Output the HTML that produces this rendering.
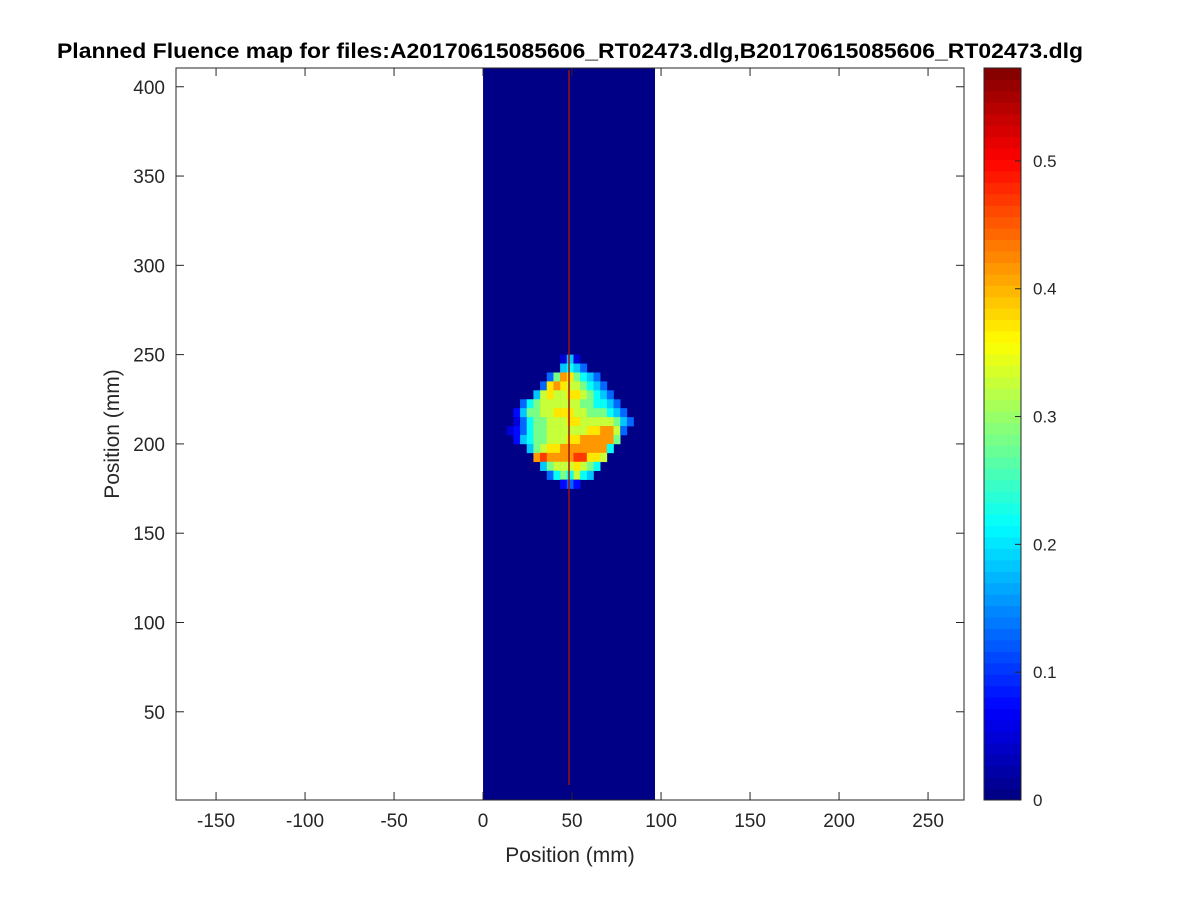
<!DOCTYPE html>
<html><head><meta charset="utf-8"><style>
body{margin:0;background:#fff;}
svg{display:block;font-family:"Liberation Sans",Arial,sans-serif;}
</style></head><body>
<svg id="chart" width="1200" height="900" viewBox="0 0 1200 900">
<rect width="1200" height="900" fill="#fff"/>
<text x="57" y="58" font-size="21" font-weight="bold" fill="#000" textLength="1026" lengthAdjust="spacingAndGlyphs">Planned Fluence map for files:A20170615085606_RT02473.dlg,B20170615085606_RT02473.dlg</text>
<g id="plot"></g>
<g id="axes"></g>
<g id="cbar"></g>
<text x="570" y="862" text-anchor="middle" font-size="21" fill="#262626">Position (mm)</text>
<text transform="translate(119,434) rotate(-90)" text-anchor="middle" font-size="21" fill="#262626">Position (mm)</text>
</svg>
<script>
const xTicks=[-150,-100,-50,0,50,100,150,200,250];
const yTicks=[50,100,150,200,250,300,350,400];
const cTicks=[0,0.1,0.2,0.3,0.4,0.5];
const fieldX=[0,96.6];
const lineX=[48.3];
const blobX0=[9.55];
const blobY0=[250];
const cellW=[3.75];
const cellH=[5.0];
const blobRows=[
[0,0,0,0,0,0,0,0,0,0.05,0.18,0.05],
[0,0,0,0,0,0,0,0,0,0.18,0.22,0.18,0.13],
[0,0,0,0,0,0,0,0.13,0.28,0.42,0.37,0.28,0.22,0.18,0.13],
[0,0,0,0,0,0,0.13,0.37,0.42,0.37,0.33,0.33,0.28,0.22,0.18,0.13],
[0,0,0,0,0,0.18,0.33,0.37,0.33,0.33,0.37,0.37,0.33,0.28,0.22,0.18,0.13],
[0,0,0,0.13,0.22,0.28,0.33,0.33,0.33,0.33,0.33,0.33,0.28,0.28,0.22,0.22,0.18,0.13],
[0,0,0.08,0.18,0.28,0.28,0.33,0.33,0.37,0.37,0.37,0.33,0.33,0.28,0.28,0.28,0.22,0.18,0.13],
[0,0,0.05,0.13,0.22,0.28,0.28,0.33,0.33,0.33,0.37,0.37,0.33,0.33,0.33,0.33,0.33,0.28,0.18,0.13],
[0,0.05,0.08,0.13,0.22,0.28,0.28,0.33,0.33,0.33,0.33,0.33,0.33,0.37,0.37,0.42,0.42,0.33,0.13],
[0,0,0.08,0.18,0.22,0.28,0.28,0.33,0.33,0.33,0.37,0.37,0.42,0.42,0.42,0.42,0.42,0.28],
[0,0,0,0,0.18,0.28,0.33,0.37,0.37,0.42,0.42,0.42,0.42,0.42,0.42,0.42,0.22],
[0,0,0,0,0,0.42,0.47,0.42,0.42,0.42,0.42,0.47,0.47,0.37,0.37,0.33],
[0,0,0,0,0,0,0.18,0.28,0.33,0.33,0.33,0.37,0.33,0.28,0.22],
[0,0,0,0,0,0,0,0.13,0.22,0.28,0.22,0.33,0.22,0.18],
[0,0,0,0,0,0,0,0,0,0.08,0.13,0.08]
];
const NS='http://www.w3.org/2000/svg';
const L=176,R=964,T=68,B=800;
const X0=-172.5,X1=270.2,Y0=0.6,Y1=410.5,CMAX=0.5727;
const sx=v=>L+(v-X0)/(X1-X0)*(R-L);
const sy=v=>B-(v-Y0)/(Y1-Y0)*(B-T);
function jet(t){t=Math.max(0,Math.min(1,t));const f=c=>Math.round(255*Math.max(0,Math.min(1,1.5-Math.abs(4*t-c))));return `rgb(${f(3)},${f(2)},${f(1)})`;}
function cmap(v){const n=64;let i=Math.min(n-1,Math.floor(v/CMAX*n));return jet((i+0.5)/n);}
function mk(tag,attrs,parent){const e=document.createElementNS(NS,tag);for(const k in attrs)e.setAttribute(k,attrs[k]);parent.appendChild(e);return e;}
const plot=document.getElementById('plot'),axes=document.getElementById('axes'),cb=document.getElementById('cbar');
let f=mk('rect',{x:sx(fieldX[0]),y:T,width:sx(fieldX[1])-sx(fieldX[0]),height:B-T,fill:cmap(0)},plot);


blobRows.forEach((row,i)=>row.forEach((v,j)=>{if(!v)return;
const x=blobX0[0]+j*cellW[0],y=blobY0[0]-i*cellH[0];
const r=mk('rect',{x:sx(x),y:sy(y),width:sx(x+cellW[0])-sx(x)+0.3,height:sy(y-cellH[0])-sy(y)+0.3,fill:cmap(v)},plot);

}));
let ln=mk('line',{x1:sx(lineX[0]),x2:sx(lineX[0]),y1:T+2,y2:785,stroke:'#a01010','stroke-width':1.5},plot);


mk('rect',{x:L,y:T,width:R-L,height:B-T,fill:'none',stroke:'#262626','stroke-width':1},axes);
xTicks.forEach(v=>{const x=sx(v);
mk('line',{x1:x,x2:x,y1:B,y2:B-8,stroke:'#262626'},axes);mk('line',{x1:x,x2:x,y1:T,y2:T+8,stroke:'#262626'},axes);
const t=mk('text',{x:x,y:B+27,'text-anchor':'middle','font-size':19,fill:'#262626'},axes);t.textContent=v;

});
yTicks.forEach(v=>{const y=sy(v);
mk('line',{x1:L,x2:L+8,y1:y,y2:y,stroke:'#262626'},axes);mk('line',{x1:R,x2:R-8,y1:y,y2:y,stroke:'#262626'},axes);
const t=mk('text',{x:L-11,y:y+7,'text-anchor':'end','font-size':19,fill:'#262626'},axes);t.textContent=v;

});
const CL=984,CR=1021;
for(let i=0;i<64;i++){const h=(B-T)/64;mk('rect',{x:CL,y:B-(i+1)*h,width:CR-CL,height:h+0.5,fill:jet((i+0.5)/64)},cb);}
mk('rect',{x:CL,y:T,width:CR-CL,height:B-T,fill:'none',stroke:'#262626'},cb);
cTicks.forEach(v=>{const y=B-v/CMAX*(B-T);
mk('line',{x1:CR-6,x2:CR,y1:y,y2:y,stroke:'#262626'},cb);
const t=mk('text',{x:CR+12,y:y+6,'font-size':17,fill:'#262626'},cb);t.textContent=v;

});
</script>
</body></html>
